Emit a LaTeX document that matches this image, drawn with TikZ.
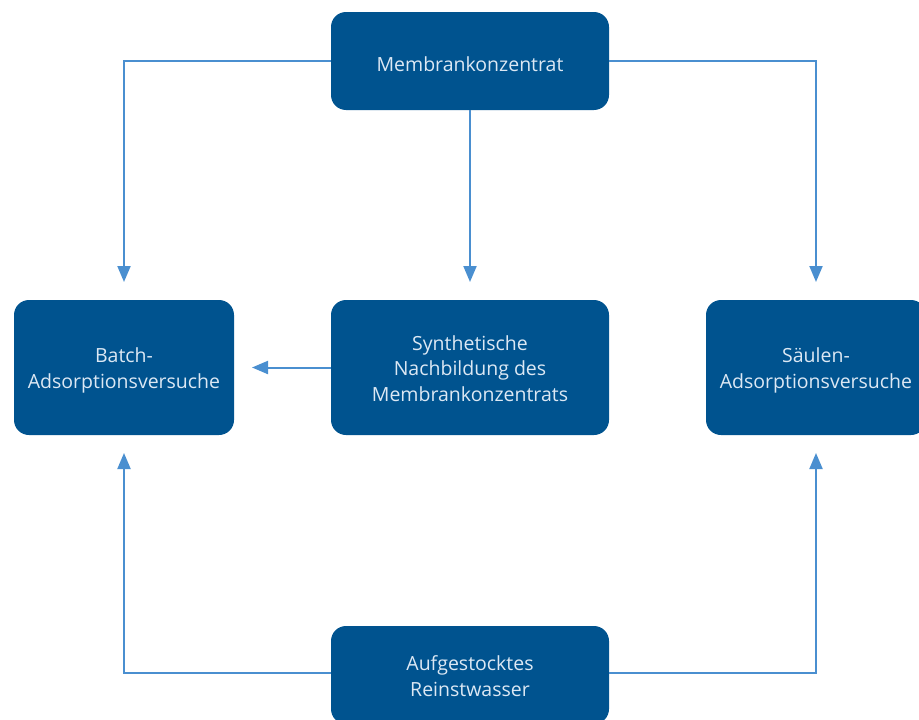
\documentclass[tikz,border=0pt]{standalone}
\usepackage{fontspec}
\setmainfont{Open Sans}
\usetikzlibrary{arrows.meta}
\definecolor{boxblue}{HTML}{00538F}
\definecolor{linkblue}{HTML}{4A8FD0}
\definecolor{txtblue}{HTML}{DCE8F4}
\begin{document}
\begin{tikzpicture}[x=1pt,y=-1pt,
  box/.style={draw=none, fill=boxblue, rounded corners=15pt, inner sep=0pt},
  lbl/.style={text=txtblue, align=center, font=\fontsize{19.5}{25.5}\selectfont, inner sep=0pt},
  link/.style={draw=linkblue, line width=2pt, -{Triangle[length=16pt,width=13pt]}}]
\path[use as bounding box] (0,0) rectangle (919,720);
\clip (0,0) rectangle (919,720);
\node[box, minimum width=278pt, minimum height=98pt] (top) at (470,61) {};
\node[lbl] (toptxt) at ([yshift=-3pt]top.center) {Membrankonzentrat};
\node[box, minimum width=220pt, minimum height=135pt] (batch) at (124,367.5) {};
\node[lbl] (batchtxt) at ([yshift=-3pt]batch.center) {Batch-\\Adsorptionsversuche};
\node[box, minimum width=278pt, minimum height=135pt] (synth) at (470,367.5) {};
\node[lbl] (synthtxt) at ([yshift=-1pt]synth.center) {Synthetische\\Nachbildung des\\Membrankonzentrats};
\node[box, minimum width=220pt, minimum height=135pt] (saeulen) at (816,367.5) {};
\node[lbl] (saeulentxt) at ([yshift=-3pt]saeulen.center) {Säulen-\\Adsorptionsversuche};
\node[box, minimum width=278pt, minimum height=98pt] (bottom) at (470,675) {};
\node[lbl] (bottomtxt) at ([yshift=-1pt]bottom.center) {Aufgestocktes\\Reinstwasser};
\coordinate (tl) at (124,282);
\coordinate (tr) at (816,282);
\coordinate (bl) at (124,453);
\coordinate (br) at (816,453);
\coordinate (tm) at (470,282);
\coordinate (sl) at (252,367.5);
\draw[link] (top.west) -| (tl);
\draw[link] (top.east) -| (tr);
\draw[link] (top.south) -- (tm);
\draw[link] (synth.west) -- (sl);
\draw[link] (bottom.west |- 0,673) -| (bl);
\draw[link] (bottom.east |- 0,673) -| (br);
\end{tikzpicture}
\end{document}
